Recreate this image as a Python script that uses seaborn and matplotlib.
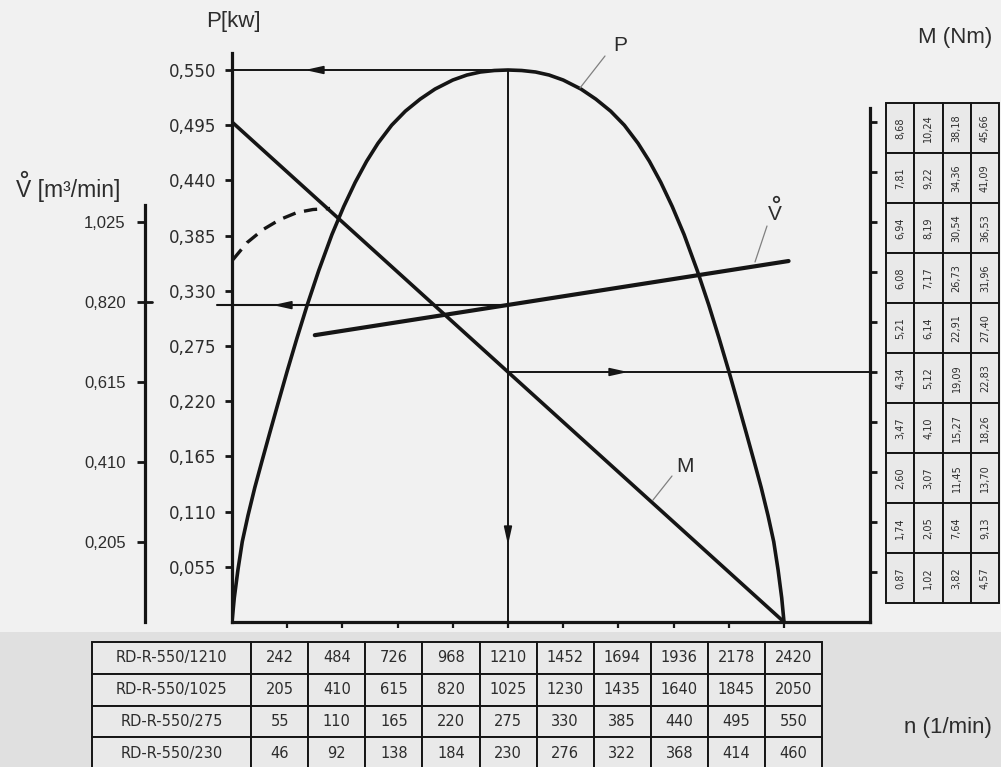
import matplotlib
matplotlib.use("Agg")
import matplotlib.pyplot as plt
from matplotlib.patches import Rectangle
import seaborn as sns

# Speed steps n (1/min) per fan model
models = ["RD-R-550/1210", "RD-R-550/1025", "RD-R-550/275", "RD-R-550/230"]
speed_1210 = [242, 484, 726, 968, 1210, 1452, 1694, 1936, 2178, 2420]
speed_1025 = [205, 410, 615, 820, 1025, 1230, 1435, 1640, 1845, 2050]
speed_275 = [55, 110, 165, 220, 275, 330, 385, 440, 495, 550]
speed_230 = [46, 92, 138, 184, 230, 276, 322, 368, 414, 460]

# Torque M (Nm) per scale step (bottom to top) per fan model
torque_1210 = [0.87, 1.74, 2.60, 3.47, 4.34, 5.21, 6.08, 6.94, 7.81, 8.68]
torque_1025 = [1.02, 2.05, 3.07, 4.10, 5.12, 6.14, 7.17, 8.19, 9.22, 10.24]
torque_275 = [3.82, 7.64, 11.45, 15.27, 19.09, 22.91, 26.73, 30.54, 34.36, 38.18]
torque_230 = [4.57, 9.13, 13.70, 18.26, 22.83, 27.40, 31.96, 36.53, 41.09, 45.66]

power_ticks = [0.055, 0.110, 0.165, 0.220, 0.275, 0.330, 0.385, 0.440, 0.495, 0.550]
flow_ticks = [0.205, 0.410, 0.615, 0.820, 1.025]

# Power curve P [kW] over n (1/min)
power_n = [0, 10, 26, 45, 70, 100, 131, 165, 202, 242, 285, 330, 380, 438, 490, 540,
           590, 640, 700, 760, 825, 890, 968, 1030, 1089, 1150, 1210,
           1270, 1331, 1390, 1452, 1530, 1595, 1660, 1720, 1780, 1830, 1880, 1930,
           1982, 2040, 2090, 2135, 2178, 2218, 2255, 2289, 2320, 2350, 2375, 2394,
           2410, 2420]
power_kw = [0, 0.024, 0.052, 0.080, 0.106, 0.134, 0.160, 0.188, 0.218, 0.250, 0.283,
            0.316, 0.350, 0.386, 0.414, 0.438, 0.459, 0.477, 0.495, 0.509, 0.521,
            0.531, 0.540, 0.545, 0.548, 0.5495, 0.550,
            0.5495, 0.548, 0.545, 0.540, 0.531, 0.521, 0.509, 0.495, 0.477, 0.459,
            0.438, 0.414, 0.386, 0.350, 0.316, 0.283, 0.250, 0.218, 0.188, 0.160,
            0.134, 0.106, 0.080, 0.052, 0.024, 0]

# Start-up branch (dashed), in kW
start_n = [4, 66, 136, 210, 285, 355, 430]
start_kw = [0.361, 0.378, 0.391, 0.401, 0.408, 0.411, 0.412]

# Volume flow V [m3/min]
flow_n = [363, 2440]
flow_m3 = [0.735, 0.925]

# Torque line M (Nm), model RD-R-550/1210
torque_n = [0, 2420]
torque_nm = [8.68, 0.0]

# Operating point at rated speed
op_n = 1210
op_power = 0.550
op_flow = 0.812
op_torque = 4.34

sns.set_theme(style="ticks")
plt.rcParams["font.family"] = ["DejaVu Sans"]

W, H = 1001, 767
BG = "#f1f1f1"
INK = "#151515"
TXT = "#2c2c2c"
LEAD = "#808080"

fig = plt.figure(figsize=(W / 100, H / 100), dpi=100, facecolor=BG)


def frame(x0, y0, x1, y1):
    return [x0 / W, 1 - y1 / H, (x1 - x0) / W, (y1 - y0) / H]


def fpos(px, py_):
    return px / W, 1 - py_ / H


fig.add_artist(Rectangle((0, 0), 1, 1 - 632 / H, transform=fig.transFigure,
                         facecolor="#e0e0e0", edgecolor="none", zorder=-1))

# plot frame in pixels
X0, X1, YT, YB = 232, 870, 45, 622
ppn = (784 - 232) / 2420          # pixels per 1/min
p_pp = 0.055 / 55.2               # kW per pixel
v_pp = 0.205 / 80                 # m3/min per pixel
m_pp = 8.68 / 500                 # Nm per pixel


def nx(px):
    return (px - X0) / ppn


def py(px):
    return (YB - px) * p_pp


ax = fig.add_axes(frame(X0, YT, X1, YB))
ax.set_facecolor("none")
ax_v = ax.twinx()
ax_m = ax.twinx()

sns.lineplot(x=power_n, y=power_kw, ax=ax, color=INK, lw=2.6, estimator=None)
sns.lineplot(x=start_n, y=start_kw, ax=ax, color=INK, lw=2.4, estimator=None,
             linestyle=(0, (4, 2.6)))
sns.lineplot(x=flow_n, y=flow_m3, ax=ax_v, color=INK, lw=3.0, estimator=None)
sns.lineplot(x=torque_n, y=torque_nm, ax=ax_m, color=INK, lw=2.6, estimator=None)

# operating point guides
ax.plot([0, op_n], [op_power, op_power], color=INK, lw=1.4)
ax.plot([op_n, op_n], [0, op_power], color=INK, lw=1.4)
ax_v.plot([nx(217), op_n], [op_flow, op_flow], color=INK, lw=1.5, clip_on=False)
ax_m.plot([op_n, nx(X1)], [op_torque, op_torque], color=INK, lw=1.4, clip_on=False)

arrow_kw = dict(arrowstyle="-|>,head_length=0.9,head_width=0.2", color=INK, lw=1.2,
                shrinkA=0, shrinkB=0, mutation_scale=12)
ax.annotate("", xy=(nx(305), op_power), xytext=(nx(318), op_power), arrowprops=arrow_kw)
ax_v.annotate("", xy=(nx(273), op_flow), xytext=(nx(286), op_flow), arrowprops=arrow_kw)
ax.annotate("", xy=(op_n, py(545)), xytext=(op_n, py(532)), arrowprops=arrow_kw)
ax_m.annotate("", xy=(nx(628), op_torque), xytext=(nx(615), op_torque), arrowprops=arrow_kw)

# limits
ax.set_xlim(0, nx(X1))
ax.set_ylim(0, (YB - YT) * p_pp)
ax_v.set_ylim(0, (YB - YT) * v_pp)
ax_m.set_ylim(0, (YB - YT) * m_pp)
for a in (ax, ax_v, ax_m):
    a.set_xlabel("")
    a.set_ylabel("")

# spines
for a in (ax, ax_v, ax_m):
    for s in a.spines.values():
        s.set_visible(False)
        s.set_linewidth(2.3)
        s.set_color(INK)
ax.spines["left"].set_visible(True)
ax.spines["bottom"].set_visible(True)
ax.spines["left"].set_bounds(0, py(53))
ax_v.spines["left"].set_visible(True)
ax_v.spines["left"].set_position(("outward", (X0 - 145) * 0.72))
ax_v.spines["left"].set_bounds(0, (YB - 205) * v_pp)
ax_m.spines["right"].set_visible(True)
ax_m.spines["right"].set_bounds(0, (YB - 108) * m_pp)

# ticks
ax.set_xticks(speed_1210)
ax.tick_params(axis="x", direction="out", length=4, width=1.6, color=INK, labelbottom=False)
ax.set_yticks(power_ticks, [f"{v:.3f}".replace(".", ",") for v in power_ticks])
ax.tick_params(axis="y", direction="out", length=5, width=2, color=INK, pad=6,
               labelsize=12, labelcolor=TXT)

ax_v.yaxis.tick_left()
ax_v.set_yticks(flow_ticks, [f"{v:.3f}".replace(".", ",") for v in flow_ticks])
ax_v.tick_params(axis="y", direction="out", length=6, width=2, color=INK, pad=8,
                 labelsize=12, labelcolor=TXT)
for lab in ax_v.get_yticklabels():
    lab.set_fontfamily("Liberation Sans")
ax_v.plot([nx(145), nx(152)], [0.820, 0.820], color=INK, lw=2, clip_on=False)

ax_m.set_yticks(torque_1210, [])
ax_m.tick_params(axis="y", direction="out", length=5, width=2, color=INK)

# ring accent over the V of the volume-flow symbol
ring_kw = dict(marker="o", markersize=4, markerfacecolor="none", markeredgecolor=TXT,
               markeredgewidth=1.2, linestyle="none", clip_on=False)

# axis titles
title_kw = dict(va="center", color=TXT, family="Liberation Sans")
fig.text(*fpos(233, 22), "P[kw]", ha="center", fontsize=16, **title_kw)
fig.text(*fpos(16, 190), "V [m³/min]", ha="left", fontsize=16.5, **title_kw)
ax.plot([nx(23.5)], [py(174)], **ring_kw)
fig.text(*fpos(955, 38), "M (Nm)", ha="center", fontsize=16, **title_kw)
fig.text(*fpos(948, 727), "n (1/min)", ha="center", fontsize=16, **title_kw)

# curve labels with leader lines
lab_kw = dict(ha="center", va="center", color=TXT, family="Liberation Sans")
ax.plot([nx(580), nx(605)], [py(88), py(56)], color=LEAD, lw=0.9, clip_on=False)
ax.text(nx(620), py(46), "P", fontsize=15, **lab_kw)
ax.plot([nx(755), nx(767)], [py(262), py(226)], color=LEAD, lw=0.9, clip_on=False)
ax.text(nx(775), py(214), "V", fontsize=15, **lab_kw)
ax.plot([nx(775.5)], [py(199)], **ring_kw)
ax.plot([nx(653), nx(672)], [py(500), py(476)], color=LEAD, lw=0.9, clip_on=False)
ax.text(nx(685), py(467), "M", fontsize=15, **lab_kw)

# speed table
ax_t = fig.add_axes(frame(92, 642, 822, 769))
ax_t.axis("off")
rows = [[m] + [str(v) for v in s]
        for m, s in zip(models, [speed_1210, speed_1025, speed_275, speed_230])]
widths = [159] + [57] * 10
tab = ax_t.table(cellText=rows, colWidths=[w / sum(widths) for w in widths],
                 bbox=[0, 0, 1, 1], cellLoc="center")
tab.auto_set_font_size(False)
tab.set_fontsize(10.5)
for cell in tab.get_celld().values():
    cell.set_facecolor("#e9e9e9")
    cell.set_edgecolor(INK)
    cell.set_linewidth(1.4)
    cell.get_text().set_color(TXT)

# torque table, one row per scale step, top row = highest step
ax_r = fig.add_axes(frame(886, 103, 999, 603))
ax_r.axis("off")
cells = [[f"{t[k]:.2f}".replace(".", ",") for t in (torque_1210, torque_1025, torque_275, torque_230)]
         for k in range(len(torque_1210) - 1, -1, -1)]
tab_r = ax_r.table(cellText=cells, bbox=[0, 0, 1, 1], cellLoc="center")
tab_r.auto_set_font_size(False)
tab_r.set_fontsize(7)
for cell in tab_r.get_celld().values():
    cell.set_facecolor("#e9e9e9")
    cell.set_edgecolor(INK)
    cell.set_linewidth(1.4)
    cell.get_text().set_color(TXT)
    cell.get_text().set_rotation(90)

fig.savefig("out.png", dpi=100, facecolor=BG)
